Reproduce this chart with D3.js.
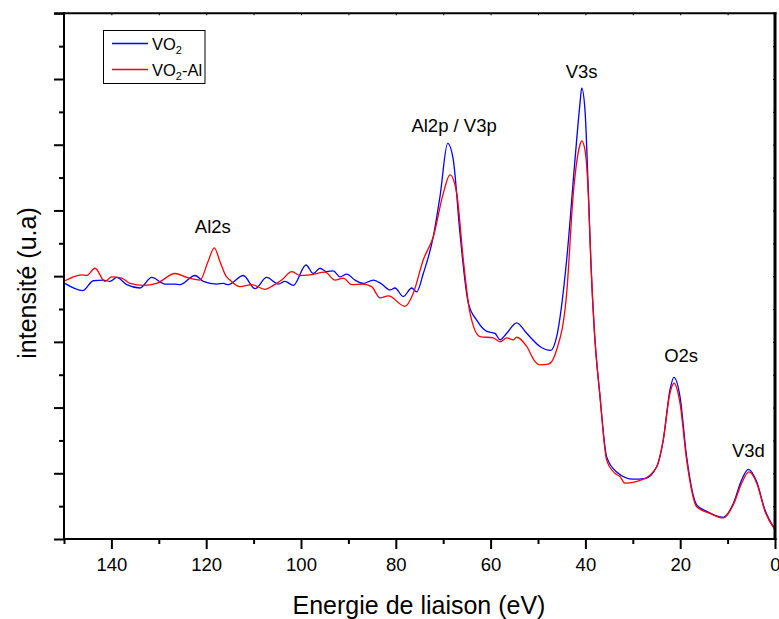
<!DOCTYPE html>
<html><head><meta charset="utf-8">
<script src="https://cdn.jsdelivr.net/npm/d3@7"></script>
<style>body{margin:0;background:#fff}svg{display:block}text{font-family:"Liberation Sans",Arial,sans-serif}</style>
</head><body>
<svg id="c" width="779" height="619"></svg>
<script>
// Energy (eV) / intensity pairs
const blueE = [149.79,146.05,143.82,141.71,140.30,138.88,136.77,133.97,131.50,128.69,126.58,125.53,122.36,120.61,117.78,116.39,115.34,112.17,109.70,107.24,104.79,103.38,101.62,98.95,97.41,95.99,94.58,93.19,91.77,90.36,88.61,86.86,84.75,82.98,81.22,80.17,78.42,76.65,75.59,74.20,72.09,70.68,69.05,67.87,66.46,64.70,62.93,60.82,59.07,58.02,56.60,54.50,52.39,49.58,47.32,46.06,43.95,42.20,41.14,40.78,40.09,39.39,38.82,38.12,36.92,35.51,33.40,29.90,27.43,24.96,23.57,22.16,21.32,20.05,18.64,16.53,14.41,10.91,8.80,7.03,5.64,3.86,2.11,0.0];
const blueI = [3.89,3.78,3.93,3.94,3.92,3.98,3.87,3.82,3.98,3.88,3.88,3.87,4.01,3.92,3.88,3.89,3.87,4.01,3.81,3.98,3.88,3.92,3.86,4.17,4.04,4.12,4.07,4.08,3.99,4.03,3.94,3.89,3.94,3.88,3.79,3.82,3.69,3.82,3.76,4.04,4.60,5.21,6.02,5.77,4.65,3.59,3.33,3.16,3.13,3.03,3.13,3.29,3.13,2.93,2.87,3.08,4.25,5.77,6.63,6.86,6.53,5.31,4.17,3.18,2.17,1.25,1.02,0.91,0.92,1.10,1.51,2.27,2.46,2.17,1.25,0.52,0.42,0.33,0.54,0.90,1.06,0.87,0.44,0.15];
const redE = [149.79,148.04,146.27,145.22,143.46,141.35,139.94,137.83,136.08,133.27,130.44,126.58,124.11,121.31,119.62,118.29,117.09,115.82,114.98,112.87,110.40,107.59,105.84,104.07,101.96,100.21,98.10,94.94,92.83,91.08,89.30,86.86,85.09,83.33,81.58,78.06,76.31,74.20,72.09,69.98,68.57,67.15,65.76,64.35,62.24,59.43,58.02,56.60,55.21,54.50,52.39,50.63,49.58,47.83,46.06,43.95,42.55,41.14,40.78,40.09,39.39,38.82,38.12,36.92,35.51,33.76,32.71,31.65,27.79,24.96,23.57,22.16,21.32,20.05,18.64,16.53,13.72,10.91,8.80,7.03,5.49,3.86,2.11,0.0];
const redI = [3.93,3.99,4.02,4.01,4.12,3.92,3.99,3.97,3.89,3.86,3.89,4.04,3.98,3.94,4.22,4.43,4.22,4.00,3.94,3.84,3.87,3.80,3.86,3.94,4.07,4.01,4.02,4.06,3.94,3.97,3.87,3.88,3.84,3.67,3.70,3.54,3.74,4.25,4.60,5.26,5.54,5.26,4.25,3.44,3.08,3.06,3.00,3.06,3.03,3.07,2.93,2.70,2.65,2.66,2.88,3.74,5.26,6.00,6.06,5.92,5.26,4.17,3.18,2.17,1.20,1.00,0.95,0.85,0.91,1.10,1.51,2.22,2.37,2.07,1.20,0.49,0.39,0.32,0.52,0.85,1.02,0.85,0.42,0.14];
const seriesNames = ["VO2", "VO2-Al"];
const xTicks = [140,120,100,80,60,40,20,0];
const peakLabels = ["Al2s","Al2p / V3p","V3s","O2s","V3d"];
const peakE = [118.6,67.7,40.8,19.8,5.6];
const peakI = [4.66,6.2,7.02,2.69,1.25];

const svg = d3.select("#c");
const L=64, R=775, T=13.3, B=539;
const x = d3.scaleLinear().domain([150,0]).range([L,R]);
const y = d3.scaleLinear().domain([0,8]).range([B,T]);

const line = d3.line().x(d=>x(d[0])).y(d=>y(d[1])).curve(d3.curveMonotoneX);
const blue = blueE.map((e,i)=>[e,blueI[i]]);
const red = redE.map((e,i)=>[e,redI[i]]);

const g = svg.append("g");
g.append("path").datum(blue).attr("d",line).attr("fill","none").attr("stroke","#0000ff").attr("stroke-width",1.3);
g.append("path").datum(red).attr("d",line).attr("fill","none").attr("stroke","#ff0000").attr("stroke-width",1.3);

// axes
const xAxis = d3.axisBottom(x).tickValues(xTicks).tickSize(10).tickSizeOuter(0).tickPadding(9).tickFormat(d3.format("d"));
const xg = svg.append("g").attr("transform",`translate(0,${B})`).call(xAxis);
xg.selectAll("text").attr("font-size",18.5).attr("fill","#000").attr("font-family","Liberation Sans");
xg.selectAll("line").attr("stroke","#000").attr("stroke-width",2);
xg.select(".domain").remove();
const xMinor = d3.axisBottom(x).tickValues(d3.range(150,0,-20)).tickSize(5).tickFormat("");
const xmg = svg.append("g").attr("transform",`translate(0,${B})`).call(xMinor);
xmg.select(".domain").remove(); xmg.selectAll("line").attr("stroke","#000").attr("stroke-width",2);

const yAxis = d3.axisLeft(y).tickValues(d3.range(0,9,1)).tickSize(10).tickFormat("");
const yg = svg.append("g").attr("transform",`translate(${L},0)`).call(yAxis);
yg.select(".domain").remove(); yg.selectAll("line").attr("stroke","#000").attr("stroke-width",2);
const yMinor = d3.axisLeft(y).tickValues(d3.range(0.5,8,1)).tickSize(5).tickFormat("");
const ymg = svg.append("g").attr("transform",`translate(${L},0)`).call(yMinor);
ymg.select(".domain").remove(); ymg.selectAll("line").attr("stroke","#000").attr("stroke-width",2);

// top and right small inward ticks
const xTop = d3.axisBottom(x).tickValues(d3.range(150,-1,-10)).tickSize(2).tickFormat("");
const xtg = svg.append("g").attr("transform",`translate(0,${T})`).call(xTop);
xtg.select(".domain").remove(); xtg.selectAll("line").attr("stroke","#000").attr("stroke-width",1);
const yRight = d3.axisLeft(y).tickValues(d3.range(0,8.1,0.5)).tickSize(2).tickFormat("");
const yrg = svg.append("g").attr("transform",`translate(${R},0)`).call(yRight);
yrg.select(".domain").remove(); yrg.selectAll("line").attr("stroke","#000").attr("stroke-width",1);

// frame
svg.append("line").attr("x1",L).attr("x2",R+1.5).attr("y1",T).attr("y2",T).attr("stroke","#000").attr("stroke-width",2);
svg.append("line").attr("x1",L-10).attr("x2",L).attr("y1",T).attr("y2",T).attr("stroke","#000").attr("stroke-width",2);
svg.append("line").attr("x1",L).attr("x2",R+1.5).attr("y1",B).attr("y2",B).attr("stroke","#000").attr("stroke-width",2);
svg.append("line").attr("x1",L).attr("x2",L).attr("y1",T-1).attr("y2",B+1).attr("stroke","#000").attr("stroke-width",2);
svg.append("line").attr("x1",R).attr("x2",R).attr("y1",T-1).attr("y2",B+1).attr("stroke","#000").attr("stroke-width",3);

// peak labels
peakLabels.forEach((t,i)=>{
  svg.append("text").attr("x",x(peakE[i])).attr("y",y(peakI[i])).attr("text-anchor","middle")
    .attr("font-size",18.5).attr("fill","#000").text(t);
});

// axis titles
svg.append("text").attr("x",419).attr("y",614).attr("text-anchor","middle").attr("font-size",25).attr("fill","#000").text("Energie de liaison (eV)");
svg.append("text").attr("transform","translate(36,283) rotate(-90)").attr("text-anchor","middle").attr("font-size",25).attr("fill","#000").text("intensité (u.a)");

// legend
const lg = svg.append("g");
lg.append("rect").attr("x",103.5).attr("y",30.5).attr("width",101.5).attr("height",53).attr("fill","#fff").attr("stroke","#000").attr("stroke-width",1);
const colors = ["#0000ff","#ff0000"];
seriesNames.forEach((n,i)=>{
  const yy = 43.5 + i*26;
  lg.append("line").attr("x1",112).attr("x2",148).attr("y1",yy).attr("y2",yy).attr("stroke",colors[i]).attr("stroke-width",1.3);
  const t = lg.append("text").attr("x",152).attr("y",yy+6).attr("font-size",16.5).attr("fill","#000");
  t.append("tspan").text("VO");
  t.append("tspan").attr("font-size",11).attr("dy",4).text("2");
  if(n.indexOf("-")>=0) t.append("tspan").attr("dy",-4).text("-Al");
});
</script>
</body></html>
